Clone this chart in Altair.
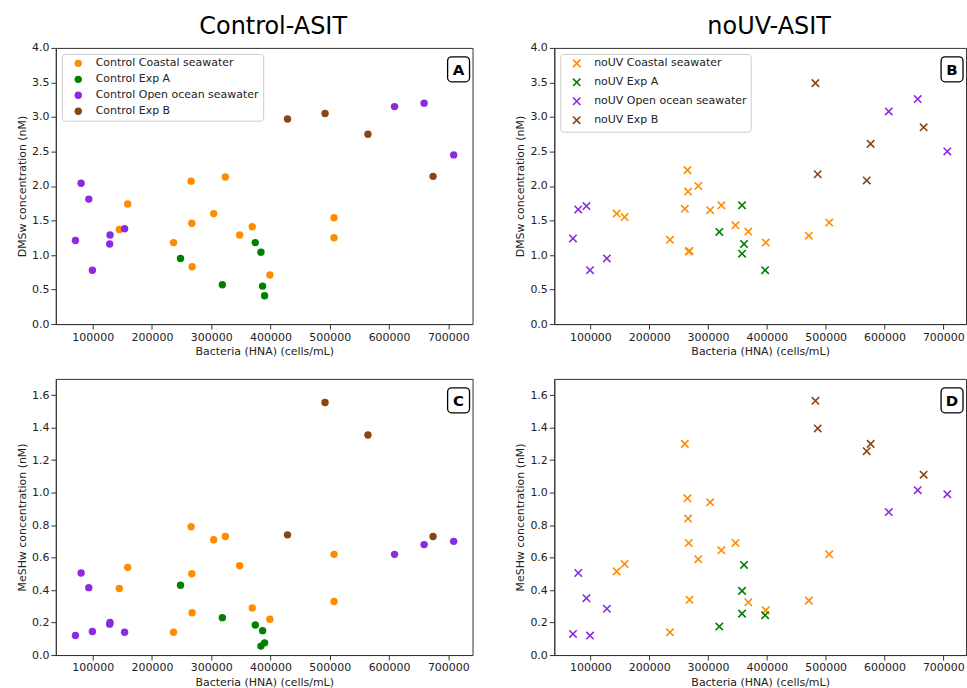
import altair as alt
import pandas as pd

# ---------------- data ----------------
ctrl_groups = ["Control Coastal seawater", "Control Exp A",
               "Control Open ocean seawater", "Control Exp B"]
nouv_groups = ["noUV Coastal seawater", "noUV Exp A",
               "noUV Open ocean seawater", "noUV Exp B"]
colors = ["#ff8c00", "#008000", "#8a2be2", "#8b4513"]

# Control treatment: bacteria (HNA), DMSw, MeSHw
ctrl_coastal_x = [144900, 158900, 236300, 266000, 267100, 267700, 304100,
                  323800, 347900, 369200, 398900, 507200, 507200]
ctrl_coastal_dms = [1.37, 1.74, 1.18, 2.07, 1.46, 0.83, 1.60,
                    2.13, 1.29, 1.41, 0.71, 1.54, 1.25]
ctrl_coastal_meshw = [0.41, 0.54, 0.14, 0.79, 0.50, 0.26, 0.71,
                      0.73, 0.55, 0.29, 0.22, 0.62, 0.33]

ctrl_expa_x = [248100, 318700, 374300, 383800, 386600, 390000]
ctrl_expa_dms = [0.95, 0.57, 1.18, 1.04, 0.55, 0.41]
ctrl_expa_meshw = [0.43, 0.23, 0.185, 0.055, 0.15, 0.075]

ctrl_open_x = [70800, 80400, 93300, 99400, 129200, 128600, 153800,
               609300, 659200, 709100]
ctrl_open_dms = [1.21, 2.04, 1.81, 0.78, 1.29, 1.16, 1.38,
                 3.15, 3.20, 2.45]
ctrl_open_meshw = [0.12, 0.505, 0.415, 0.145, 0.20, 0.19, 0.14,
                   0.62, 0.68, 0.70]

ctrl_expb_x = [428700, 492000, 564400, 674300]
ctrl_expb_dms = [2.97, 3.05, 2.75, 2.14]
ctrl_expb_meshw = [0.74, 1.555, 1.355, 0.73]

# noUV treatment
nouv_coastal_x = [144700, 158200, 235300, 260500, 265000, 266100, 267200,
                  268500, 283400, 303600, 322600, 346600, 368500, 398100,
                  471400, 506000]
nouv_coastal_dms = [1.60, 1.55, 1.22, 1.67, 2.23, 1.92, 1.05,
                    1.06, 2.00, 1.65, 1.72, 1.43, 1.34, 1.18,
                    1.28, 1.47]
nouv_coastal_meshw = [0.515, 0.56, 0.14, 1.30, 0.965, 0.84, 0.69,
                      0.34, 0.59, 0.94, 0.645, 0.69, 0.325, 0.275,
                      0.335, 0.62]

nouv_expa_x = [319200, 357800, 361200, 357800, 397000]
nouv_expa_dms = [1.335, 1.72, 1.16, 1.02, 0.78]
nouv_expa_meshw = [0.175, 0.395, 0.555, 0.255, 0.245]

nouv_open_x = [70400, 79300, 93300, 99400, 128000, 607300, 656500, 706800]
nouv_open_dms = [1.24, 1.66, 1.71, 0.78, 0.95, 3.08, 3.26, 2.50]
nouv_open_meshw = [0.13, 0.505, 0.35, 0.12, 0.285, 0.88, 1.015, 0.99]

nouv_expb_x = [482600, 486500, 569800, 576500, 666600]
nouv_expb_dms = [3.49, 2.17, 2.08, 2.61, 2.85]
nouv_expb_meshw = [1.565, 1.395, 1.255, 1.30, 1.11]

x_ticks = [100000, 200000, 300000, 400000, 500000, 600000, 700000]
dms_ticks = [0.0, 0.5, 1.0, 1.5, 2.0, 2.5, 3.0, 3.5, 4.0]
meshw_ticks = [0.0, 0.2, 0.4, 0.6, 0.8, 1.0, 1.2, 1.4, 1.6]


def build(groups, xs, dms, meshw):
    rows = []
    for g, xl, dl, ml in zip(groups, xs, dms, meshw):
        for a, b, c in zip(xl, dl, ml):
            rows.append({"group": g, "x": a, "dms": b, "meshw": c})
    return pd.DataFrame(rows)


df_ctrl = build(ctrl_groups,
                [ctrl_coastal_x, ctrl_expa_x, ctrl_open_x, ctrl_expb_x],
                [ctrl_coastal_dms, ctrl_expa_dms, ctrl_open_dms, ctrl_expb_dms],
                [ctrl_coastal_meshw, ctrl_expa_meshw, ctrl_open_meshw, ctrl_expb_meshw])
df_nouv = build(nouv_groups,
                [nouv_coastal_x, nouv_expa_x, nouv_open_x, nouv_expb_x],
                [nouv_coastal_dms, nouv_expa_dms, nouv_open_dms, nouv_expb_dms],
                [nouv_coastal_meshw, nouv_expa_meshw, nouv_open_meshw, nouv_expb_meshw])

CROSS = "M-1,-1L1,1M-1,1L1,-1"
FONT = "DejaVu Sans"


def panel(df, ycol, ytitle, ydomain, yticks, groups, xdomain, marker,
          label, width, height, show_legend, title=None):
    if show_legend:
        leg = alt.Legend(
            title=None, orient="top-left", offset=6, padding=4,
            symbolOffset=7, labelOffset=12, rowPadding=4,
            strokeColor="#cccccc", fillColor="white", cornerRadius=3,
            labelFont=FONT, labelFontSize=11, labelColor="#222222",
            symbolSize=55, labelLimit=400,
            **({"symbolType": CROSS, "symbolStrokeWidth": 1.6} if marker == "x" else {})
        )
    else:
        leg = None
    color = alt.Color("group:N", scale=alt.Scale(domain=groups, range=colors),
                      legend=leg)
    x = alt.X("x:Q", scale=alt.Scale(domain=xdomain, nice=False, zero=False),
              axis=alt.Axis(values=x_ticks, format="d",
                            title="Bacteria (HNA) (cells/mL)"))
    y = alt.Y(f"{ycol}:Q", scale=alt.Scale(domain=ydomain, nice=False),
              axis=alt.Axis(values=yticks, format=".1f", title=ytitle))
    if marker == "o":
        pts = alt.Chart(df).mark_circle(size=55, opacity=1).encode(x=x, y=y, color=color)
    else:
        pts = alt.Chart(df).mark_point(shape=CROSS, filled=False, size=55,
                                       strokeWidth=1.6, opacity=1).encode(x=x, y=y, color=color)
    lab = pd.DataFrame({"t": [label]})
    box = alt.Chart(lab).mark_rect(cornerRadius=4, fill="white", stroke="black",
                                   strokeWidth=1.3).encode(
        x=alt.value(width - 25), x2=alt.value(width - 3),
        y=alt.value(9), y2=alt.value(34))
    txt = alt.Chart(lab).mark_text(font=FONT, fontSize=15, fontWeight="bold",
                                   color="black", baseline="middle",
                                   align="center").encode(
        text="t:N", x=alt.value(width - 14), y=alt.value(22))
    layers = [pts, box, txt]
    if title:
        tdf = pd.DataFrame({"t": [title]})
        layers.append(
            alt.Chart(tdf).mark_text(font=FONT, fontSize=24, color="black",
                                     baseline="alphabetic", align="center").encode(
                text="t:N", x=alt.value(width / 2 + 9), y=alt.value(-14))
        )
    return alt.layer(*layers).properties(width=width, height=height)


W1, W2, H = 418, 413, 277
xdom_c = [37700, 740900]
xdom_n = [38600, 738600]

pA = panel(df_ctrl, "dms", "DMSw concentration (nM)", [0, 4], dms_ticks,
           ctrl_groups, xdom_c, "o", "A", W1, H, True, "Control-ASIT")
pB = panel(df_nouv, "dms", "DMSw concentration (nM)", [0, 4], dms_ticks,
           nouv_groups, xdom_n, "x", "B", W2, H, True, "noUV-ASIT")
pC = panel(df_ctrl, "meshw", "MeSHw concentration (nM)", [0, 1.7], meshw_ticks,
           ctrl_groups, xdom_c, "o", "C", W1, H, False)
pD = panel(df_nouv, "meshw", "MeSHw concentration (nM)", [0, 1.7], meshw_ticks,
           nouv_groups, xdom_n, "x", "D", W2, H, False)

res = dict(color="independent", x="independent", y="independent")
row1 = alt.hconcat(pA, pB, spacing=41).resolve_scale(**res).resolve_legend(color="independent")
row2 = alt.hconcat(pC, pD, spacing=41).resolve_scale(**res).resolve_legend(color="independent")

chart = alt.vconcat(row1, row2, spacing=20).resolve_scale(**res).resolve_legend(
    color="independent"
).properties(
    padding={"left": 16, "top": 13, "right": 0, "bottom": 0},
    background="white",
).configure_view(
    stroke="#333333", strokeWidth=1
).configure_axis(
    labelFont=FONT, titleFont=FONT, labelFontSize=11, titleFontSize=11,
    titleFontWeight="normal", labelColor="#222222", titleColor="#222222",
    tickColor="#333333", domainColor="#333333", grid=False, tickSize=5,
    labelPadding=2, titlePadding=4
)

chart.save("out.html", embed_options={"renderer": "svg", "actions": False})
